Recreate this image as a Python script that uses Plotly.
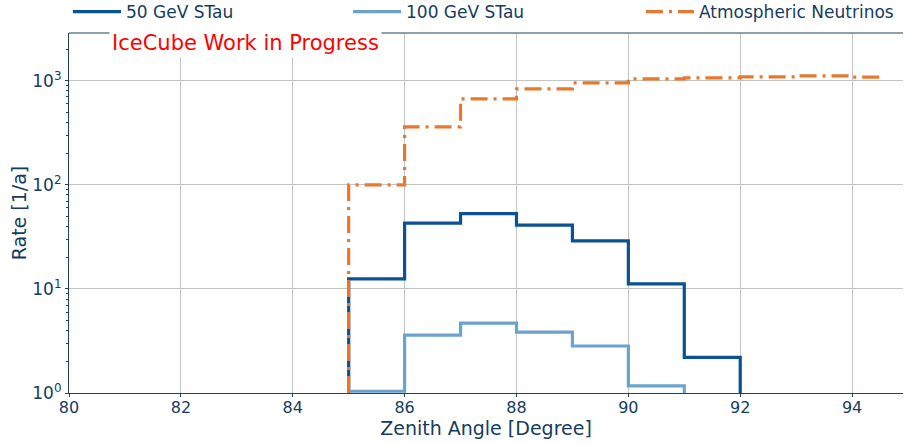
import plotly.graph_objects as go

# ---- data ----
stau50_edges = [85, 86, 87, 88, 89, 90, 91, 92]
stau50_rate = [12.5, 43, 53, 41, 29, 11.2, 2.2]

stau100_edges = [85, 86, 87, 88, 89, 90, 91]
stau100_rate = [1.04, 3.6, 4.7, 3.85, 2.83, 1.17]

atm_edges = [85, 86, 87, 88, 89, 90, 91, 92, 93, 94, 94.5]
atm_rate = [100, 361, 671, 838, 955, 1045, 1070, 1090, 1117, 1085]

x_ticks = [80, 82, 84, 86, 88, 90, 92, 94]
y_tickvals = [1, 10, 100, 1000]
y_ticktext = ["10<sup>0</sup>", "10<sup>1</sup>", "10<sup>2</sup>", "10<sup>3</sup>"]

Y_FLOOR = 1.0

DARK = "#0a5294"
LIGHT = "#6ba3cc"
ORANGE = "#e8782c"
TEXT = "#153c60"
AXC = "#23415e"
FONT = "DejaVu Sans"


def step_closed(edges, vals):
    xs = [edges[0]] + list(edges)
    ys = [Y_FLOOR] + list(vals) + [Y_FLOOR]
    return xs, ys


def step_open(edges, vals):
    xs = [edges[0]] + list(edges)
    ys = [Y_FLOOR] + list(vals) + [vals[-1]]
    return xs, ys


fig = go.Figure()

x1, y1 = step_closed(stau50_edges, stau50_rate)
fig.add_trace(go.Scatter(x=x1, y=y1, mode="lines", line_shape="hv",
                         line=dict(color=DARK, width=3.2),
                         name="50 GeV STau", legend="legend"))
x2, y2 = step_closed(stau100_edges, stau100_rate)
fig.add_trace(go.Scatter(x=x2, y=y2, mode="lines", line_shape="hv",
                         line=dict(color=LIGHT, width=3.2),
                         name="100 GeV STau", legend="legend2"))
x3, y3 = step_open(atm_edges, atm_rate)
fig.add_trace(go.Scatter(x=x3, y=y3, mode="lines", line_shape="hv",
                         line=dict(color=ORANGE, width=3.2, dash="17px,6px,3px,6px"),
                         name="Atmospheric Neutrinos", legend="legend3"))

legend_common = dict(orientation="h", xref="container", yref="container",
                     yanchor="middle", xanchor="left", bgcolor="rgba(0,0,0,0)",
                     itemwidth=48,
                     font=dict(family=FONT, size=17, color=TEXT))
fig.update_layout(
    width=904, height=444,
    showlegend=True,
    margin=dict(l=69, r=1, t=33, b=51, autoexpand=False),
    paper_bgcolor="white", plot_bgcolor="white",
    font=dict(family=FONT, color=TEXT),
    legend=dict(x=68 / 904, y=1 - 12 / 444, **legend_common),
    legend2=dict(x=348 / 904, y=1 - 12 / 444, **legend_common),
    legend3=dict(x=641 / 904, y=1 - 12 / 444, **legend_common),
    xaxis=dict(range=[80, 94.91], tickvals=x_ticks, showgrid=True, automargin=False,
               gridcolor="#c4c4c4", gridwidth=1,
               showline=True, linecolor=AXC, linewidth=1.2, mirror=False,
               ticks="outside", ticklen=3, tickcolor=AXC, ticklabelstandoff=-3,
               tickfont=dict(family=FONT, size=16, color=TEXT),
               title=dict(text="Zenith Angle [Degree]", standoff=2,
                          font=dict(family=FONT, size=19, color=TEXT)),
               zeroline=False),
    yaxis=dict(type="log", range=[0, 3.46], tickvals=y_tickvals, ticktext=y_ticktext,
               showgrid=True, gridcolor="#c4c4c4", gridwidth=1, automargin=False,
               showline=True, linecolor=AXC, linewidth=1.2,
               ticks="outside", ticklen=3, tickcolor=AXC,
               tickfont=dict(family=FONT, size=17, color=TEXT),
               minor=dict(ticks="outside", ticklen=2, tickcolor=AXC, dtick="D1",
                          showgrid=False),
               title=dict(text="Rate [1/a]", standoff=0,
                          font=dict(family=FONT, size=19, color=TEXT)),
               zeroline=False),
    shapes=[dict(type="line", xref="paper", yref="paper", x0=0, x1=1, y0=1, y1=1,
                 line=dict(color=AXC, width=1.2), layer="above")],
    annotations=[dict(text="IceCube Work in Progress", xref="paper", yref="paper",
                      x=(246 - 69) / 835, y=1 - (43 - 33) / 360,
                      xanchor="center", yanchor="middle", showarrow=False,
                      bgcolor="white", borderpad=2,
                      font=dict(family=FONT, size=21, color="red"))],
)

fig.write_html("out.html", config={"displayModeBar": False},
               post_script="document.body.style.margin='0';document.body.style.padding='0';")
